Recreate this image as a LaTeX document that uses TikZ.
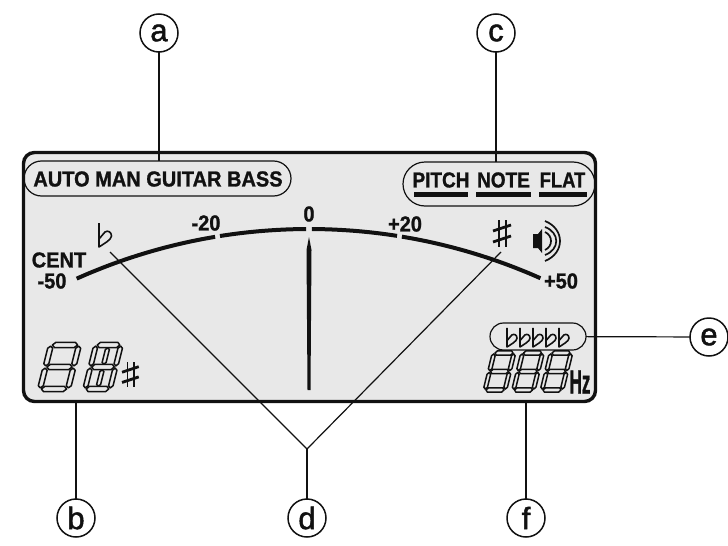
\documentclass[tikz,border=0pt]{standalone}
\usepackage{fontspec}
\setmainfont{Liberation Sans}
\newfontfamily\lcdfont[FakeBold=1.2]{Liberation Sans Bold}
\newfontfamily\calloutfont[FakeBold=1.6]{Liberation Sans}
\usetikzlibrary{positioning}
\usetikzlibrary{shapes.misc}
\definecolor{lcdgray}{HTML}{E8E8E8}
\definecolor{inkblack}{HTML}{111111}

\newcommand{\lcdsegments}{%
  \foreach \y in {0,1,2}
    \draw[lcdseg] (.05,\y) -- (.15,\y+.12) -- (.85,\y+.12) -- (.95,\y) -- (.85,\y-.12) -- (.15,\y-.12) -- cycle;
  \foreach \x/\y in {0/0,0/1,1/0,1/1}
    \draw[lcdseg] (\x,\y+.05) -- (\x+.09,\y+.15) -- (\x+.09,\y+.85) -- (\x,\y+.95) -- (\x-.09,\y+.85) -- (\x-.09,\y+.15) -- cycle;
}
\newcommand{\lcddigit}[5]{%
  \begin{scope}[shift={(#1,#2)}, x={(#3pt,0pt)}, y={(#4pt,#5pt)}]
    \lcdsegments
  \end{scope}
}
\newcommand{\lcdwidedigit}[5]{%
  \begin{scope}[shift={(#1,#2)}, x={(#3pt,0pt)}, y={(#4pt,#5pt)}]
    \lcdsegments
    \foreach \y in {0,1}
      \draw[lcdseg] (.5,\y+.14) -- (.58,\y+.2) -- (.58,\y+.8) -- (.5,\y+.86) -- (.42,\y+.8) -- (.42,\y+.2) -- cycle;
  \end{scope}
}

\tikzset{
  callout/.style={draw=inkblack, circle, line width=1.5pt, minimum size=38pt, inner sep=0pt, outer sep=0pt, text=inkblack, font=\fontsize{31}{31}\calloutfont},
  leader/.style={draw=inkblack, line width=1.2pt},
  pill/.style={draw=inkblack, rounded rectangle, line width=1.2pt, inner sep=0pt, outer sep=0pt},
  lcdlabel/.style={inner sep=0pt, text=inkblack, yscale=1.08, font=\fontsize{20}{20}\lcdfont},
  lcdseg/.style={draw=inkblack, fill=lcdgray, line width=1.5pt, line join=round},
  sharpsign/.pic={
    \draw[inkblack, line width=1.5pt] (6,0) -- (6,27) (13,0) -- (13,27);
    \draw[inkblack, line width=2.8pt] (0,11) -- (18,5) (0,22) -- (18,16);
  },
  flatsign/.pic={
    \draw[inkblack, line width=1.6pt, line join=round] (0,-24) -- (0,0) .. controls (6,-4) and (12,-7) .. (12.5,-11) .. controls (12.5,-15) and (9,-17) .. (6,-15) -- (0,-8);
  },
}

\begin{document}
\begin{tikzpicture}[x=1pt, y=-1pt]
  \useasboundingbox (0,0) rectangle (728,546);

  \node[draw=inkblack, fill=lcdgray, line width=3.4pt, rounded corners=11pt, minimum width=572pt, minimum height=249pt, inner sep=0pt, outer sep=0pt] (panel) at (309.5,277) {};

  \node[pill, minimum width=267pt, minimum height=35pt] (modes) at (157.5,178.5) {};
  \node[lcdlabel] (modetext) at (158,179) {AUTO MAN GUITAR BASS};

  \node[pill, minimum width=192pt, minimum height=44pt] (tones) at (499,184) {};
  \node[lcdlabel, xscale=.95] (pitch) at (441,180) {PITCH};
  \node[lcdlabel, xscale=.95] (note) at (503.5,180) {NOTE};
  \node[lcdlabel, xscale=.92] (flat) at (562.5,180) {FLAT};
  \foreach \a/\b in {414/468,476/531,539/587}
    \fill[inkblack] (\a,192) rectangle (\b,197);

  \foreach \a/\b in {-114.1/-99.5,-99/-90.3,-89.7/-81.1,-80.6/-66}
    \draw[inkblack, line width=4pt] plot[domain=\a:\b, samples=12, smooth] ({309+569*cos(\x)},{798+569*sin(\x)});
  \fill[inkblack] (309,237) -- (311.5,250) -- (310.5,390) -- (307.5,390) -- (306.5,250) -- cycle;

  \node[lcdlabel] (cent) at (59,260) {CENT};
  \node[lcdlabel] (minusfifty) at (52,281) {-50};
  \node[lcdlabel] (minustwenty) at (206,223) {-20};
  \node[lcdlabel] (zero) at (309,214) {0};
  \node[lcdlabel] (plustwenty) at (405,224) {+20};
  \node[lcdlabel] (plusfifty) at (561,281) {+50};

  \pic at (99,247) {flatsign};
  \pic at (493,220) {sharpsign};
  \pic[scale=.93] at (122,362) {sharpsign};

  \fill[inkblack] (533,234) -- (538,234) -- (542,229) -- (542,253) -- (538,248) -- (533,248) -- cycle;
  \foreach \r/\h in {8/9,15/14,20/20}
    \draw[inkblack, line width=1.7pt] (545,241-\h) .. controls (545+\r,241-.6*\h) and (545+\r,241+.6*\h) .. (545,241+\h);

  \lcddigit{40}{389}{28}{5.5}{22}
  \lcdwidedigit{85}{389}{25}{5.5}{22}

  \node[pill, minimum width=96pt, minimum height=27pt] (flats) at (538,336.5) {};
  \foreach \a in {507,520,533,546,559}
    \pic[scale=.8] at (\a,347) {flatsign};

  \lcddigit{485}{390}{20}{4.5}{18.5}
  \lcddigit{513.5}{390}{20}{4.5}{18.5}
  \lcddigit{542}{390}{20}{4.5}{18.5}
  \node[lcdlabel, font=\fontsize{31}{31}\lcdfont, xscale=.55, yscale=1] (hertz) at (580,382) {Hz};

  \node[callout] (a) at (159,33) {a};
  \node[callout] (b) at (76,518) {b};
  \node[callout] (c) at (496,33) {c};
  \node[callout] (d) at (307,518) {d};
  \node[callout] (e) at (709,337) {e};
  \node[callout] (f) at (526,518) {f};

  \coordinate (flattip) at (110,252);
  \coordinate (sharptip) at (501,252);
  \coordinate (fork) at (307,449);

  \path[leader]
  (a) edge (a |- modes.north)
  (c) edge (c |- tones.north)
  (b) edge (b |- panel.south)
  (f) edge (f |- panel.south)
  (e) edge (flats)
  (d) edge (fork)
  (fork) edge (flattip)
  (fork) edge (sharptip);
\end{tikzpicture}
\end{document}
